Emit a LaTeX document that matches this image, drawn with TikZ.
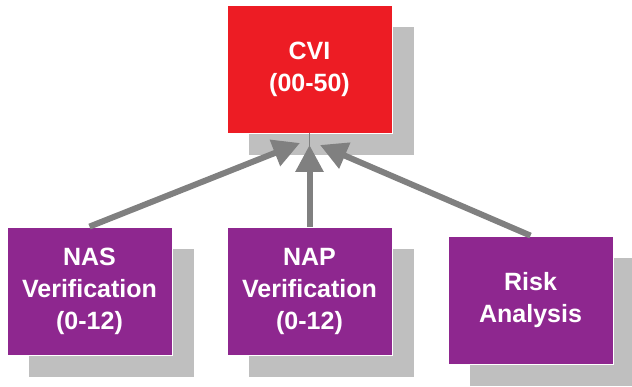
\documentclass[tikz,border=0pt]{standalone}
\usepackage{fontspec}
\setmainfont{Liberation Sans}
\usetikzlibrary{arrows.meta,shadows}
\definecolor{cvired}{HTML}{ED1C24}
\definecolor{boxpurple}{HTML}{8E278F}
\definecolor{shadowgray}{HTML}{BFBFBF}
\definecolor{arrowgray}{HTML}{808080}
\tikzset{
  box/.style={minimum width=165pt, minimum height=128pt, inner sep=0pt,
    draw=white, line width=0.8pt, text=white, align=center,
    font=\bfseries\fontsize{25}{32}\selectfont,
    drop shadow={shadow xshift=22pt, shadow yshift=-22pt, fill=shadowgray, opacity=1}},
  redbox/.style={box, fill=cvired},
  purplebox/.style={box, fill=boxpurple},
  conn/.style={draw=arrowgray, line width=6pt, -{Triangle[width=27pt,length=27pt]}},
  stem/.style={draw=arrowgray, line width=1pt}
}
\begin{document}
\begin{tikzpicture}[x=1pt,y=-1pt]
\useasboundingbox (0,0) rectangle (632,387);
\node[redbox] (cvi) at (309.5,69) {CVI\\(00-50)};
\node[purplebox] (nas) at (89.5,291) {NAS\\Verification\\(0-12)};
\node[purplebox] (nap) at (309.5,291) {NAP\\Verification\\(0-12)};
\node[purplebox] (risk) at (530.5,300) {Risk\\Analysis};
\coordinate (tl) at (300,143);
\coordinate (tm) at (309.5,145);
\coordinate (tr) at (320,145);
\coordinate (stemend) at (309.5,150);
\draw[stem] (cvi.south) -- (stemend);
\draw[conn] (nas.north) -- (tl);
\draw[conn] (nap.north) -- (tm);
\draw[conn] (risk.north) -- (tr);
\end{tikzpicture}
\end{document}
